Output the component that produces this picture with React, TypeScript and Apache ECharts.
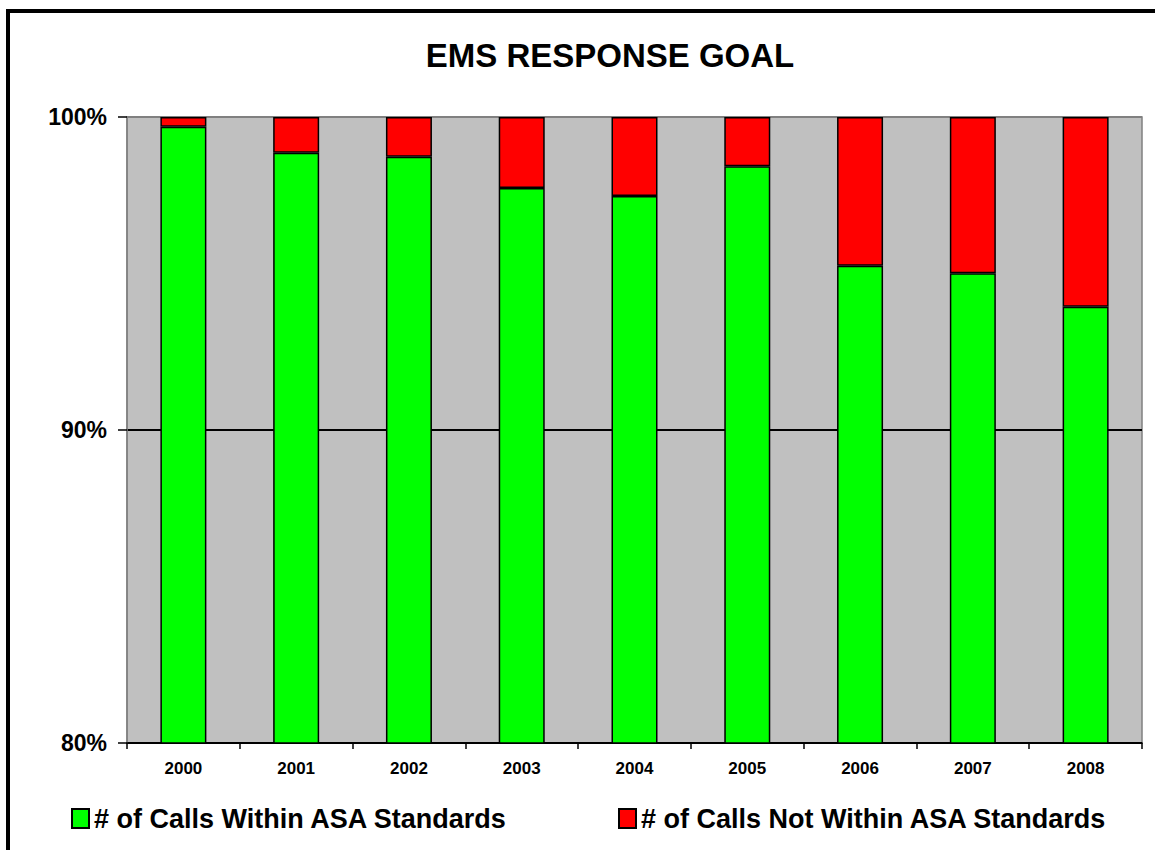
import React, { useEffect, useRef } from "react";
import * as echarts from "echarts";

const categories = ["2000", "2001", "2002", "2003", "2004", "2005", "2006", "2007", "2008"];
const withinValues = [99.69, 98.86, 98.73, 97.73, 97.48, 98.43, 95.25, 95.01, 93.94];
const notWithinValues = [0.31, 1.14, 1.27, 2.27, 2.52, 1.57, 4.75, 4.99, 6.06];
const seriesNames = ["# of Calls Within ASA Standards", "# of Calls Not Within ASA Standards"];
const yTicks = { min: 80, max: 100, interval: 10 };
const titleText = "EMS RESPONSE GOAL";

const FONT = "'Liberation Sans', Arial, Helvetica, sans-serif";

export default function App() {
  const ref = useRef<HTMLDivElement>(null);
  useEffect(() => {
    if (!ref.current) return;
    const chart = echarts.init(ref.current, undefined, { renderer: "svg" });
    const legendBase = {
      orient: "horizontal",
      padding: 0,
      itemWidth: 17,
      itemHeight: 19,
      icon: "rect",
      textStyle: { fontFamily: FONT, fontSize: 27, fontWeight: "bold", color: "#000" },
    };
    chart.setOption({
      animation: false,
      backgroundColor: "#ffffff",
      title: {
        text: titleText,
        left: 605,
        top: 34,
        textAlign: "center",
        textStyle: { fontFamily: FONT, fontSize: 33, fontWeight: "bold", color: "#000" },
      },
      graphic: [
        {
          type: "rect",
          shape: { x: 8, y: 11, width: 1200, height: 900 },
          style: { fill: "none", stroke: "#000", lineWidth: 4 },
          silent: true,
        },
      ],
      legend: [
        { ...legendBase, data: [seriesNames[0]], left: 71, top: 805 },
        { ...legendBase, data: [seriesNames[1]], left: 618, top: 805 },
      ],
      grid: {
        left: 127,
        top: 117,
        right: 13,
        bottom: 107,
        show: true,
        backgroundColor: "#C0C0C0",
        borderColor: "#808080",
        borderWidth: 1.5,
      },
      xAxis: {
        type: "category",
        data: categories,
        boundaryGap: true,
        axisLine: { show: true, lineStyle: { color: "#000", width: 1.5 } },
        axisTick: { show: true, alignWithLabel: false, length: 6, lineStyle: { color: "#000", width: 1.5 } },
        axisLabel: { fontFamily: FONT, fontSize: 17, fontWeight: "bold", color: "#000", margin: 17 },
        splitLine: { show: false },
      },
      yAxis: {
        type: "value",
        min: yTicks.min,
        max: yTicks.max,
        interval: yTicks.interval,
        axisLine: { show: true, lineStyle: { color: "#808080", width: 1.5 } },
        axisTick: { show: true, length: 9, lineStyle: { color: "#000", width: 1.5 } },
        axisLabel: {
          fontFamily: FONT,
          fontSize: 23,
          fontWeight: "bold",
          color: "#000",
          margin: 20,
          formatter: "{value}%",
        },
        splitLine: { show: true, lineStyle: { color: ["#000", "#000", "#808080"], width: 2 } },
      },
      series: [
        {
          name: seriesNames[0],
          type: "bar",
          stack: "total",
          data: withinValues,
          barWidth: 46,
          itemStyle: { color: "#00FF00", borderColor: "#000", borderWidth: 1.5 },
        },
        {
          name: seriesNames[1],
          type: "bar",
          stack: "total",
          data: notWithinValues,
          barWidth: 46,
          itemStyle: { color: "#FF0000", borderColor: "#000", borderWidth: 1.5 },
        },
      ],
    });
    return () => chart.dispose();
  }, []);
  return (
    <div
      ref={ref}
      style={{ position: "fixed", left: 0, top: 0, width: 1155, height: 850 }}
    />
  );
}
